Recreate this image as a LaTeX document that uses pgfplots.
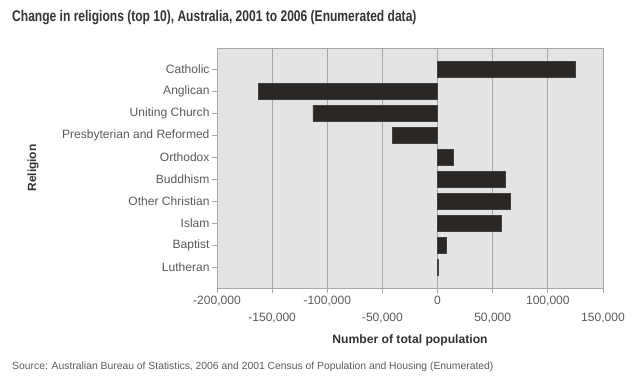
\documentclass[border=0pt]{standalone}
\usepackage{pgfplots}
\pgfplotsset{compat=1.18}
\usepackage{fontspec}
\setmainfont{Liberation Sans}
\newfontfamily\titlefont[FakeStretch=0.78]{Liberation Sans}
\definecolor{bg}{HTML}{E4E4E4}
\definecolor{barc}{HTML}{2A2623}
\definecolor{gridc}{HTML}{A8A8A8}
\definecolor{txt}{HTML}{5A5A5A}
\definecolor{ttl}{HTML}{333333}
\begin{document}
\begin{tikzpicture}[x=1bp,y=1bp]
\path[use as bounding box] (0,0) rectangle (640,387);
\node[anchor=west, inner sep=0pt, font=\titlefont\bfseries\fontsize{15.5}{16}\selectfont, text=ttl] at (12,369) {Change in religions (top 10), Australia, 2001 to 2006 (Enumerated data)};
\begin{axis}[at={(217bp,99bp)}, anchor=south west, width=386bp, height=239.5bp, scale only axis,
  xbar, bar width=16bp,
  xmin=-200000, xmax=150000, ymin=-0.93, ymax=9.93, y dir=reverse,
  scaled x ticks=false,
  axis background/.style={fill=bg},
  axis line style={gridc},
  tick style={gridc, line width=0.8bp},
  tick align=outside, major tick length=5bp,
  xtick pos=bottom, ytick pos=left,
  ytick={0,...,9},
  yticklabels={Catholic,Anglican,Uniting Church,Presbyterian and Reformed,Orthodox,Buddhism,Other Christian,Islam,Baptist,Lutheran},
  xtick={-200000,-100000,0,100000},
  xticklabels={{-200,000},{-100,000},{0},{100,000}},
  extra x ticks={-150000,-50000,50000,150000},
  extra x tick labels={{-150,000},{-50,000},{50,000},{150,000}},
  extra x tick style={grid=major, xticklabel style={yshift=-17bp}},
  xmajorgrids, grid style={gridc, line width=0.8bp},
  ticklabel style={font=\fontsize{12.1}{12}\selectfont, text=txt},
  yticklabel style={xshift=1bp},
]
\addplot[fill=barc, draw=black!75] coordinates {
(124400,0) (-162500,1) (-113000,2) (-40900,3) (14300,4) (61200,5) (66000,6) (57800,7) (7700,8) (800,9)};
\end{axis}
\node[font=\bfseries\fontsize{12.2}{12}\selectfont, text=ttl] at (410,47) {Number of total population};
\node[rotate=90, font=\bfseries\fontsize{12}{12}\selectfont, text=ttl] at (33,219) {Religion};
\node[anchor=west, inner sep=0pt, font=\fontsize{10.4}{11}\selectfont, text=txt] at (12,20) {Source: Australian Bureau of Statistics, 2006 and 2001 Census of Population and Housing (Enumerated)};
\end{tikzpicture}
\end{document}
